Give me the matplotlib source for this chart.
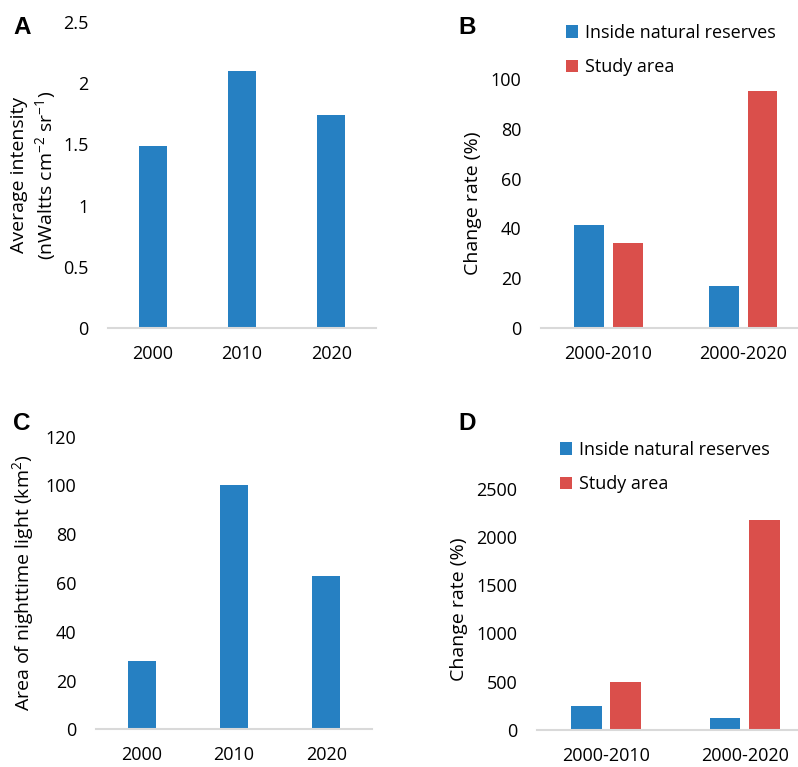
import numpy as np
import matplotlib
matplotlib.use("Agg")
import matplotlib.pyplot as plt

plt.rcParams["font.family"] = ["Open Sans", "DejaVu Sans"]
plt.rcParams["mathtext.fontset"] = "custom"
plt.rcParams["mathtext.rm"] = "Open Sans"
plt.rcParams["axes.unicode_minus"] = False

BLUE = "#2680C2"
RED = "#DA4F4B"
GRID = "#D9D9D9"

# data
years = ["2000", "2010", "2020"]
intensity = [1.49, 2.10, 1.74]
area = [28, 100, 63]

periods = ["2000-2010", "2000-2020"]
intensity_rate_reserve = [41.3, 16.9]
intensity_rate_study = [34.3, 95.2]
area_rate_reserve = [252, 121]
area_rate_study = [495, 2179]

series_names = ["Inside natural reserves", "Study area"]

fig = plt.figure(figsize=(7.98, 7.67), dpi=100)
W, H = 798, 767


def make_ax(l, r, t, b):
    return fig.add_axes([l / W, 1 - b / H, (r - l) / W, (b - t) / H])


def style(ax):
    for s in ["top", "right", "left"]:
        ax.spines[s].set_visible(False)
    ax.spines["bottom"].set_color(GRID)
    ax.spines["bottom"].set_linewidth(1.5)
    ax.tick_params(length=0, labelsize=13, colors="black")
    ax.tick_params(axis="y", pad=14)
    ax.tick_params(axis="x", pad=12)


def place_ylabel(ax, x_px, l, r):
    # x_px: right edge of the rotated label in figure pixels
    ax.yaxis.set_label_coords((x_px - l) / (r - l), 0.5)


def fmt(v):
    return "{:g}".format(v)


# A: average intensity
axA = make_ax(108, 376, 22, 328)
axA.bar(np.arange(3), intensity, width=0.31, color=BLUE)
axA.set_xlim(-0.5, 2.5)
axA.set_ylim(0, 2.5)
axA.set_xticks(np.arange(3))
axA.set_xticklabels(years)
yt = [0, 0.5, 1, 1.5, 2, 2.5]
axA.set_yticks(yt)
axA.set_yticklabels([fmt(v) for v in yt])
axA.set_ylabel("Average intensity\n(nWaltts cm$^{-2}$ sr$^{-1}$)", fontsize=14,
               linespacing=1.25)
style(axA)
place_ylabel(axA, 59, 108, 376)

# C: area of nighttime light
axC = make_ax(95.7, 372.3, 436.7, 729.3)
axC.bar(np.arange(3), area, width=0.31, color=BLUE)
axC.set_xlim(-0.5, 2.5)
axC.set_ylim(0, 120)
axC.set_xticks(np.arange(3))
axC.set_xticklabels(years)
axC.set_yticks(range(0, 121, 20))
axC.set_ylabel("Area of nighttime light (km$^{2}$)", fontsize=14)
style(axC)
place_ylabel(axC, 37, 95.7, 372.3)


def grouped(ax, a, b, xmax, ymax, step):
    x = np.arange(len(periods))
    h1 = ax.bar(x - 0.142, a, width=0.222, color=BLUE)
    h2 = ax.bar(x + 0.142, b, width=0.222, color=RED)
    ax.set_xlim(-0.5, xmax)
    ax.set_ylim(0, ymax)
    ax.set_xticks(x)
    ax.set_xticklabels(periods)
    ax.set_yticks(np.arange(0, ymax + 1, step))
    ax.set_ylabel("Change rate (%)", fontsize=14)
    style(ax)
    return h1, h2


leg_kw = dict(loc="upper left", frameon=False, fontsize=13, handlelength=0.7,
              handleheight=0.7, handletextpad=0.35, labelspacing=0.92,
              borderaxespad=0, borderpad=0.2)

# B: intensity change rate
axB = make_ax(541, 798, 78.7, 328.3)
hb = grouped(axB, intensity_rate_reserve, intensity_rate_study, 1.405, 100, 20)
place_ylabel(axB, 482, 541, 798)
fig.legend(hb, series_names, bbox_to_anchor=(562 / W, 1 - 20 / H), **leg_kw)

# D: area change rate
axD = make_ax(536.7, 798, 488.7, 730)
hd = grouped(axD, area_rate_reserve, area_rate_study, 1.384, 2500, 500)
place_ylabel(axD, 468, 536.7, 798)
fig.legend(hd, series_names, bbox_to_anchor=(556 / W, 1 - 437 / H), **leg_kw)

# panel letters
for letter, x, y in [("A", 13, 16), ("B", 458, 16), ("C", 13, 412), ("D", 458, 412)]:
    fig.text(x / W, 1 - y / H, letter, fontsize=17.5, fontweight="bold",
             family="Liberation Sans", ha="left", va="top")

fig.savefig("out.png", dpi=100)
